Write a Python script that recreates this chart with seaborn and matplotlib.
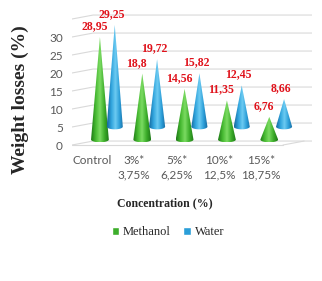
import numpy as np
import pandas as pd
import matplotlib
matplotlib.use("Agg")
import matplotlib.pyplot as plt
import seaborn as sns
from matplotlib.patches import Polygon, Patch
from matplotlib.colors import LinearSegmentedColormap

# data
categories = ["Control", "3%*\n3,75%", "5%*\n6,25%", "10%*\n12,5%", "15%*\n18,75%"]
methanol = [28.95, 18.8, 14.56, 11.35, 6.76]
water = [29.25, 19.72, 15.82, 12.45, 8.66]
methanol_labels = ["28,95", "18,8", "14,56", "11,35", "6,76"]
water_labels = ["29,25", "19,72", "15,82", "12,45", "8,66"]
solvents = ["Methanol", "Water"]

df = pd.DataFrame({
    "cat": categories * 2,
    "solvent": ["Methanol"] * 5 + ["Water"] * 5,
    "value": methanol + water,
})

sns.set_style("white")
serif = "Liberation Serif"
sans = "Lato"
grid_c = "#D9D9D9"
red = "#E0121B"
palette = {"Methanol": "#3DAE2B", "Water": "#2B9ED8"}
shades = {
    "Methanol": ["#1E7A16", "#45B830", "#7BDB62", "#3DAE2B", "#1E7A16"],
    "Water": ["#17689E", "#2FA3DC", "#6CCBF2", "#2B9ED8", "#17689E"],
}

fig = plt.figure(figsize=(3.22, 2.81), dpi=100)
ax = fig.add_axes([72 / 322, 1 - 150.4 / 281, 240 / 322, 149.4 / 281])

sns.barplot(data=df, x="cat", y="value", hue="solvent", order=categories,
            hue_order=solvents, palette=palette, width=0.7, errorbar=None,
            legend=False, ax=ax)

# 3D-ish wall / floor lines
x_left, x_right = -0.835, 4.835
dx, dy = 0.5, 1.1
for v in range(0, 36, 5):
    ax.plot([x_left, x_left + dx, x_right], [v, v + dy, v + dy],
            color=grid_c, lw=0.8, zorder=0)
ax.plot([x_left, 4.15], [0, 0], color=grid_c, lw=0.8, zorder=0)
ax.plot([4.15, 4.15 + dx], [0, dy], color=grid_c, lw=0.8, zorder=0)

# cones built from the bar geometry
setup = {"Methanol": dict(base=1.5, lift=1.05, w=0.21, lab_dx=-0.13),
         "Water": dict(base=5.1, lift=4.1, w=0.19, lab_dx=-0.07)}
labels = {"Methanol": methanol_labels, "Water": water_labels}
for cont, solvent in zip(ax.containers, solvents):
    s = setup[solvent]
    cmap = LinearSegmentedColormap.from_list(solvent, shades[solvent])
    for bar, lab in zip(cont, labels[solvent]):
        xc = bar.get_x() + bar.get_width() / 2
        top = bar.get_height() + s["lift"]
        base = s["base"]
        bar.set_visible(False)
        t = np.linspace(np.pi, 2 * np.pi, 30)
        pts = [(xc, top)] + [(xc + s["w"] * np.cos(a), base + 0.75 * np.sin(a)) for a in t]
        poly = Polygon(pts, closed=True, facecolor="none", edgecolor="none")
        ax.add_patch(poly)
        grad = np.linspace(0, 1, 64).reshape(1, -1)
        im = ax.imshow(grad, cmap=cmap, aspect="auto", zorder=3,
                       extent=[xc - s["w"], xc + s["w"], base - 0.8, top])
        im.set_clip_path(poly)
        ax.text(xc + s["lab_dx"], top + 3.0, lab, color=red, fontsize=8.5,
                fontweight="bold", family=serif, ha="center", va="center",
                zorder=5, clip_on=False)

ax.set_xlim(x_left, x_right)
ax.set_ylim(-1.5, 40)
ax.set_yticks(range(0, 31, 5))
ax.set_yticklabels([str(v) for v in range(0, 31, 5)], family=sans,
                   fontsize=8.5, color="#595959")
ax.set_xticks([i - 0.365 for i in range(5)])
ax.set_xticklabels(categories, family=sans, fontsize=8.5, color="#595959",
                   linespacing=1.35)
ax.tick_params(axis="y", length=0, pad=6.5)
ax.tick_params(axis="x", length=0, pad=3.5)
ax.set_xlabel("")
ax.set_ylabel("")
for sp in ax.spines.values():
    sp.set_visible(False)

fig.text(20 / 322, 1 - 100 / 281, "Weight losses (%)", rotation=90,
         family=serif, fontweight="bold", fontsize=14, ha="center", va="center")
fig.text(165 / 322, 1 - 203 / 281, "Concentration (%)", family=serif,
         fontweight="bold", fontsize=8.5, ha="center", va="center")

handles = [Patch(facecolor=palette[s], label=s) for s in solvents]
fig.legend(handles=handles, loc="center", bbox_to_anchor=(168 / 322, 1 - 232 / 281),
           ncol=2, frameon=False, prop={"family": serif, "size": 9},
           handlelength=0.6, handleheight=0.6, handletextpad=0.3,
           columnspacing=1.0)

fig.savefig("out.png", dpi=100)
